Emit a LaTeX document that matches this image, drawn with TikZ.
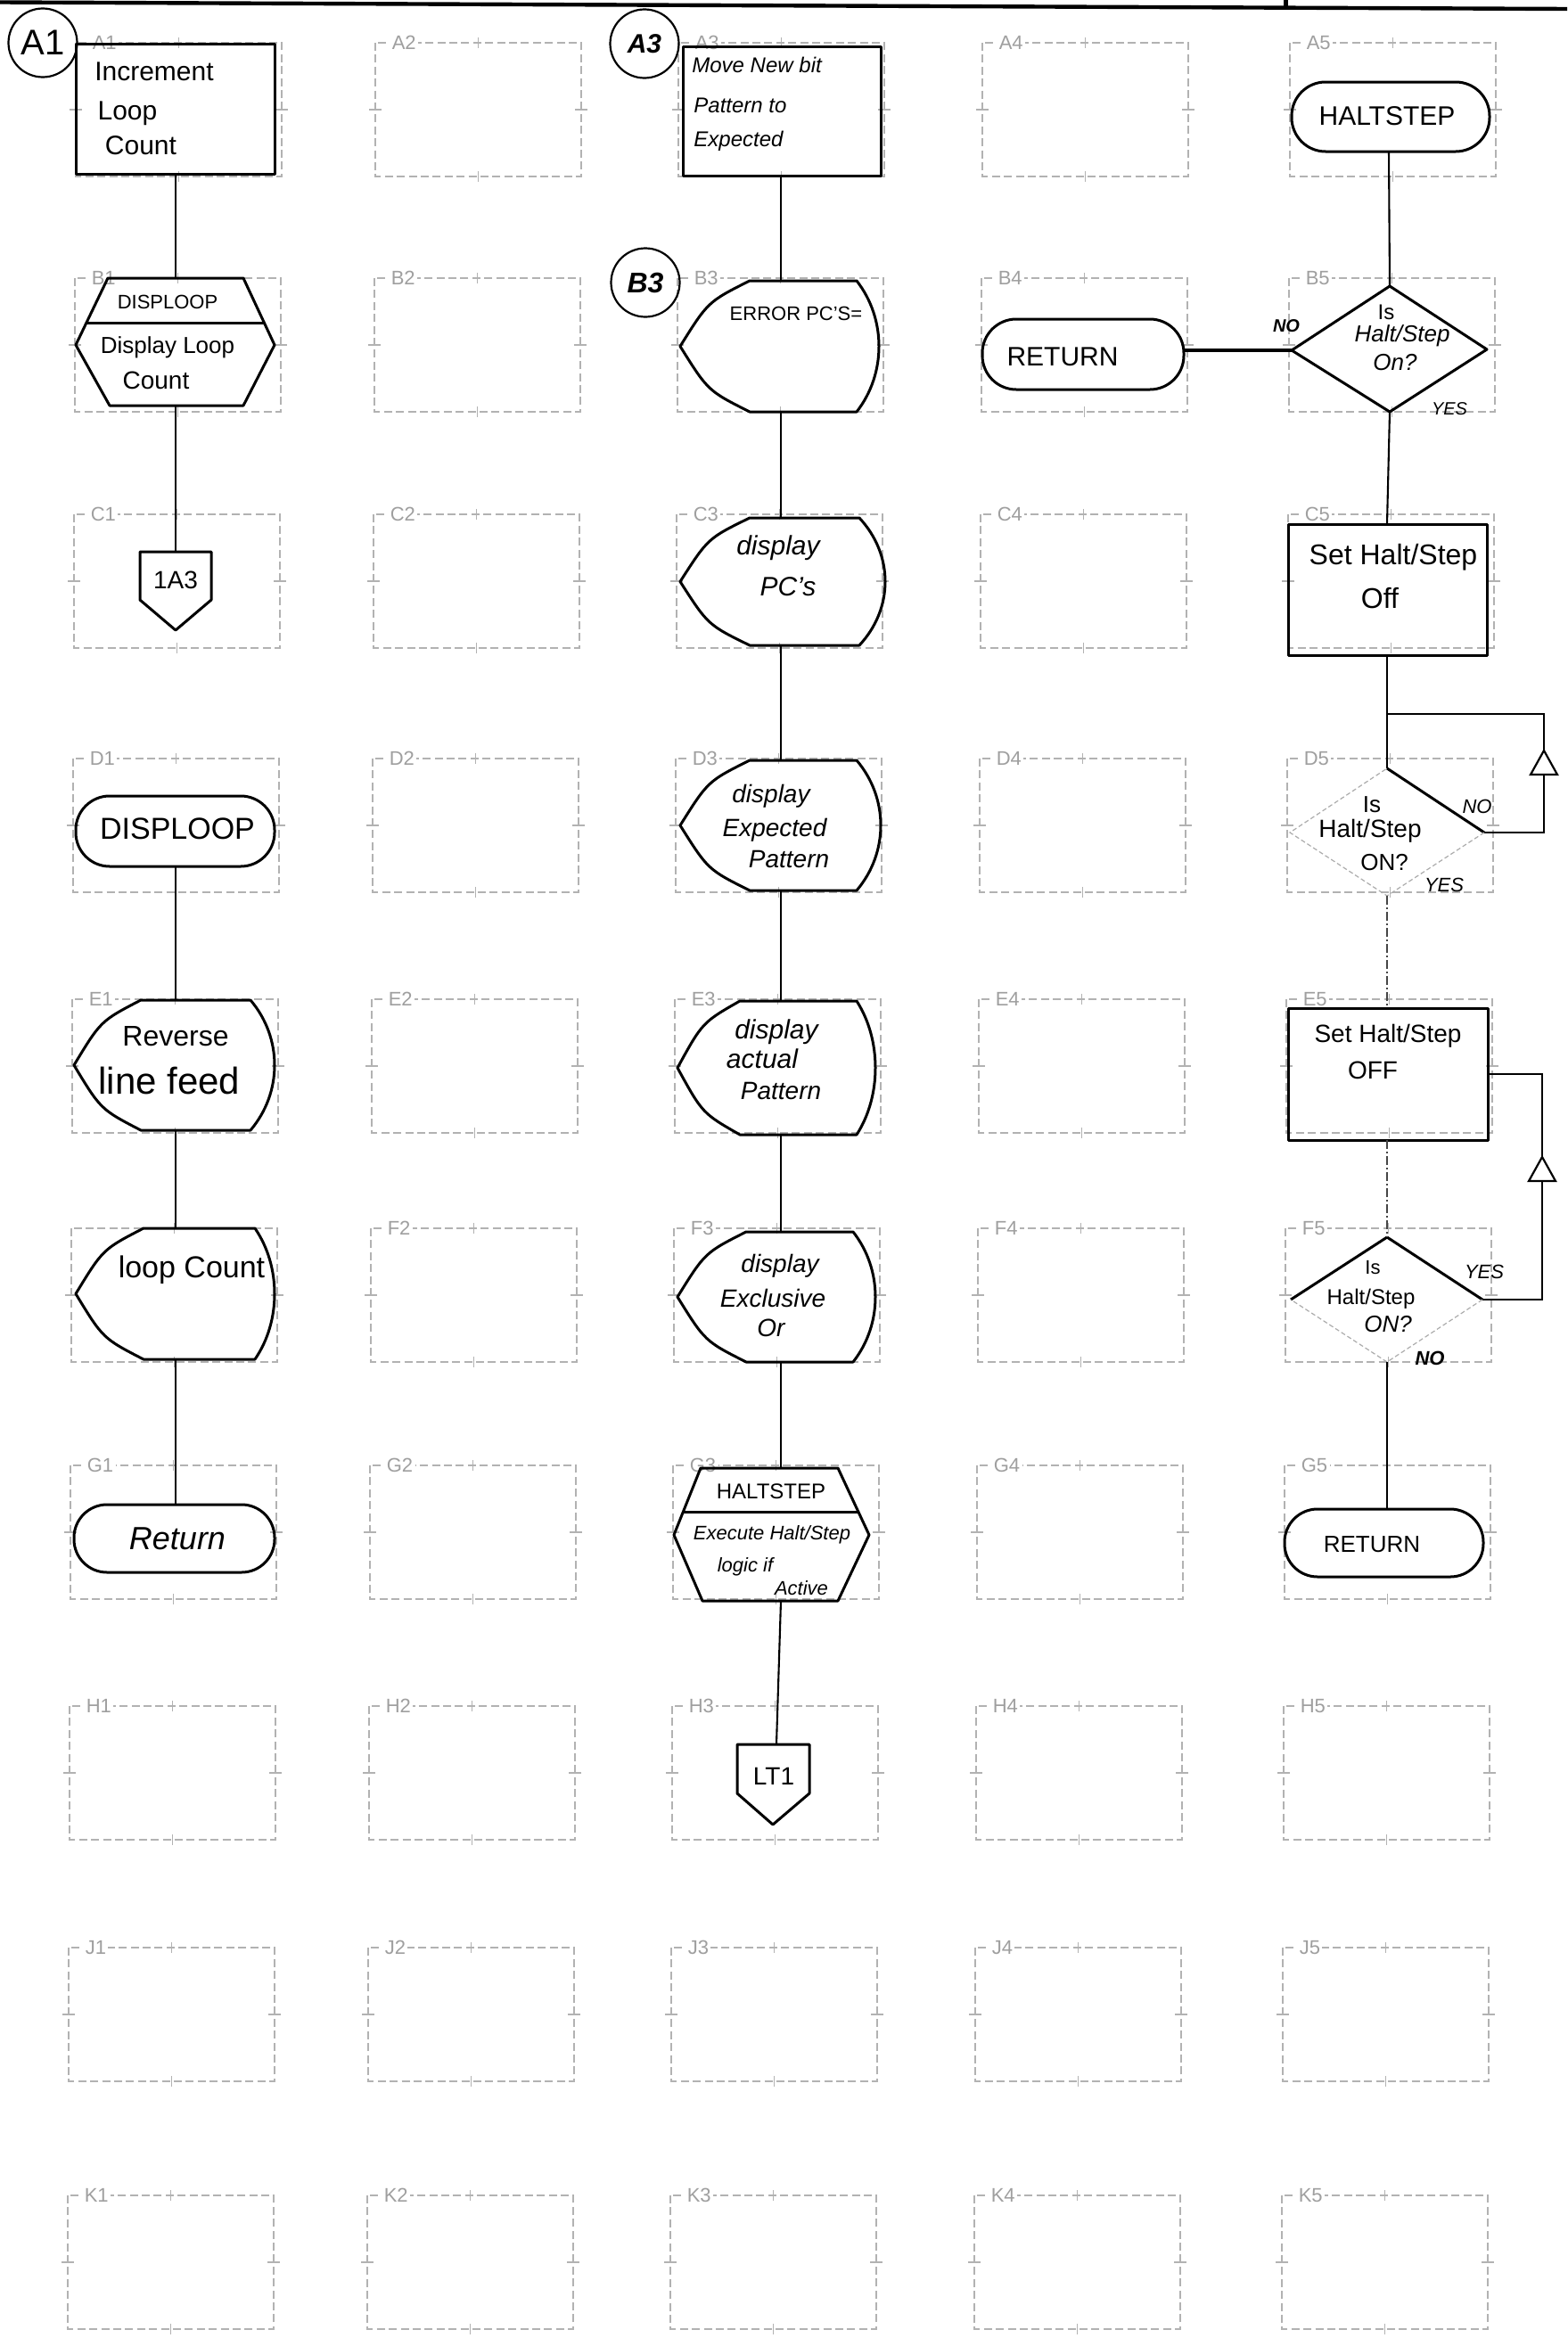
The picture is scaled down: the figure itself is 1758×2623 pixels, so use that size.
\documentclass[tikz,border=0pt]{standalone}
\usepackage{fontspec}
\setmainfont{Liberation Sans}
\usetikzlibrary{calc}
\newcommand\hf[1]{\fontsize{#1}{#1}\selectfont}
% display symbol: X1, X2, top, bottom, left point x, right max x
\newcommand\dispshape[6]{%
  \pgfmathsetmacro\dsM{(#3+#4)/2}%
  \pgfmathsetmacro\dsH{#4-#3}%
  \pgfmathsetmacro\dsC{#2+(#6-#2)/0.75}%
  \pgfmathsetmacro\dsLx{#1-0.6*(#1-#5)}%
  \pgfmathsetmacro\dsUa{#3+0.29*\dsH}%
  \pgfmathsetmacro\dsUb{#4-0.29*\dsH}%
  \pgfmathsetmacro\dsLa{#3+0.16*\dsH}%
  \pgfmathsetmacro\dsLb{#4-0.16*\dsH}%
  \draw[fig] (#1,#3) -- (#2,#3) .. controls (\dsC,\dsUa) and (\dsC,\dsUb) .. (#2,#4) -- (#1,#4) .. controls (\dsLx,\dsLb) .. (#5,\dsM) .. controls (\dsLx,\dsLa) .. (#1,#3) -- cycle;%
}
\newcommand\htx[5]{\node[txt, font=\hf{#4}] (#1) at (#2,#3) {#5};}
\begin{document}
\begin{tikzpicture}[x=0.5pt,y=-0.5pt,
  gridbox/.style={draw=gray!60, line width=0.6pt, dash pattern=on 4.5pt off 2.2pt},
  gridtick/.style={draw=gray!60, line width=0.6pt},
  gridlabel/.style={font=\hf{11}, text=gray!75, fill=white, inner sep=1.2pt},
  fig/.style={draw=black, line width=1.5pt, line join=round},
  conn/.style={draw=black, line width=1.05pt},
  faint/.style={draw=gray!65, line width=0.6pt, dash pattern=on 2.5pt off 1.5pt},
  dashdot/.style={draw=gray!55!black, line width=0.9pt, dash pattern=on 5pt off 1.5pt on 1pt off 1.5pt},
  txt/.style={inner sep=0pt},
  tri/.style={draw=black, line width=1.1pt, fill=white, line join=miter},
  circ/.style={draw=black, circle, line width=1.1pt, minimum size=38.5pt, inner sep=0pt}
]
\useasboundingbox (0,0) rectangle (1758,2623);
\fill[white] (0,0) rectangle (1758,2623);

% ---------------- grid of dashed cells ----------------
\foreach \ri/\ty/\rl in {0/48/A,1/312/B,2/577/C,3/851/D,4/1121/E,5/1378/F,6/1644/G,7/1914/H,8/2185/J,9/2463/K}{
  \foreach \cj/\lx in {1/85,2/421,3/761,4/1102,5/1447}{
    \pgfmathsetmacro\gL{\lx-1.0*\ri}
    \pgfmathsetmacro\gR{\gL+231}
    \pgfmathsetmacro\gM{\gL+115.5}
    \pgfmathsetmacro\gB{\ty+150}
    \pgfmathsetmacro\gV{\ty+75}
    \draw[gridbox] (\gL,\ty) rectangle (\gR,\gB);
    \draw[gridtick] (\gM,\ty-6) -- (\gM,\ty+6) (\gM,\gB-6) -- (\gM,\gB+6)
                    (\gL-7,\gV) -- (\gL+7,\gV) (\gR-7,\gV) -- (\gR+7,\gV);
    \ifnum\ri\cj=51\relax\else
      \node[gridlabel, anchor=west] (g\rl\cj) at (\gL+16,\ty) {\rl\cj};
    \fi
  }
}

% ---------------- top rule ----------------
\coordinate (topL) at (0,2.5);
\coordinate (topR) at (1758,10);
\coordinate (stubT) at (1442,0);
\coordinate (stubB) at (1442,11);
\draw[line width=2.2pt] (topL) -- (topR);
\draw[line width=2.5pt] (stubT) -- (stubB);

% ---------------- circles ----------------
\node[circ, font=\hf{20}] (cA1) at (48,48) {A1};
\node[circ, font=\bfseries\itshape\hf{15}] (cA3) at (723,49) {A3};
\node[circ, font=\bfseries\itshape\hf{16}] (cB3) at (724,317) {B3};

% ================= column 1 =================
\draw[fig] (85,49) rectangle (308,195);
\coordinate (A1b) at (197,195);
\htx{a1l1}{173}{80}{15}{Increment}
\htx{a1l2}{143}{127}{15}{Loop}
\htx{a1l3}{158}{163}{15}{Count}

\draw[fig] (121,312) -- (273,312) -- (308,387) -- (273,455) -- (123,455) -- (85,387) -- cycle;
\draw[fig] (97,362) -- (297,362);
\coordinate (B1t) at (197,312);
\coordinate (B1b) at (197,455);
\htx{b1h}{188}{339}{11}{DISPLOOP}
\htx{b1l1}{188}{390}{13}{Display Loop}
\htx{b1l2}{175}{427}{14}{Count}

\draw[fig] (157,619) -- (237,619) -- (237,673) -- (197,707) -- (157,673) -- cycle;
\coordinate (C1t) at (197,619);
\htx{c1}{197}{651}{14}{1A3}

\draw[fig, rounded corners=19pt] (85,893) rectangle (308,972);
\coordinate (D1b) at (197,972);
\htx{d1}{199}{930}{17}{DISPLOOP}

\dispshape{158}{281}{1122}{1268}{83}{308}
\coordinate (E1t) at (197,1122);
\coordinate (E1b) at (197,1268);
\htx{e1l1}{197}{1163}{16}{Reverse}
\htx{e1l2}{190}{1212}{21}{line feed}

\dispshape{161}{286}{1378}{1525}{85}{308}
\coordinate (F1t) at (197,1378);
\coordinate (F1b) at (197,1525);
\htx{f1}{215}{1425}{17}{loop Count}

\draw[fig, rounded corners=18.5pt] (83,1688) rectangle (308,1764);
\coordinate (G1t) at (197,1688);
\htx{g1}{199}{1726}{18}{\itshape Return}

\draw[conn] (A1b) -- (B1t);
\draw[conn] (B1b) -- (C1t);
\draw[conn] (D1b) -- (E1t);
\draw[conn] (E1b) -- (F1t);
\draw[conn] (F1b) -- (G1t);

% ================= column 3 =================
\draw[fig] (766,52) rectangle (988,197);
\coordinate (A3b) at (876,197);
\node[txt, font=\itshape\hf{12}, anchor=west] (a3l1) at (776,73) {Move New bit};
\node[txt, font=\itshape\hf{12}, anchor=west] (a3l2) at (778,118) {Pattern to};
\node[txt, font=\itshape\hf{12}, anchor=west] (a3l3) at (778,158) {Expected};

\dispshape{841}{961}{315}{462}{763}{986}
\coordinate (B3t) at (876,315);
\coordinate (B3b) at (876,462);
\htx{b3}{893}{352}{11}{ERROR PC'S=}

\dispshape{841}{964}{581}{724}{763}{993}
\coordinate (C3t) at (876,581);
\coordinate (C3b) at (876,724);
\htx{c3l1}{873}{615}{15}{\itshape display}
\htx{c3l2}{884}{658}{15}{\itshape PC's}

\dispshape{841}{961}{853}{999}{763}{988}
\coordinate (D3t) at (876,853);
\coordinate (D3b) at (876,999);
\htx{d3l1}{865}{893}{14}{\itshape display}
\htx{d3l2}{869}{931}{14}{\itshape Expected}
\htx{d3l3}{885}{964}{14}{\itshape Pattern}

\dispshape{830}{961}{1123}{1273}{760}{982}
\coordinate (E3t) at (876,1123);
\coordinate (E3b) at (876,1273);
\htx{e3l1}{871}{1158}{15}{\itshape display}
\htx{e3l2}{855}{1188}{15}{\itshape actual}
\htx{e3l3}{876}{1224}{14}{\itshape Pattern}

\dispshape{837}{957}{1382}{1528}{760}{982}
\coordinate (F3t) at (876,1382);
\coordinate (F3b) at (876,1528);
\htx{f3l1}{875}{1420}{14}{\itshape display}
\htx{f3l2}{867}{1456}{14}{\itshape Exclusive}
\htx{f3l3}{865}{1490}{14}{\itshape Or}

\draw[fig] (786,1647) -- (940,1647) -- (975,1722) -- (940,1796) -- (788,1796) -- (756,1722) -- cycle;
\draw[fig] (766,1696) -- (963,1696);
\coordinate (G3t) at (876,1647);
\coordinate (G3b) at (876,1796);
\htx{g3h}{865}{1673}{12}{HALTSTEP}
\htx{g3l1}{866}{1722}{11}{\itshape Execute Halt/Step}
\htx{g3l2}{836}{1758}{11}{\itshape logic if}
\htx{g3l3}{899}{1782}{11}{\itshape Active}

\draw[fig] (827,1957) -- (908,1957) -- (908,2012) -- (867,2047) -- (827,2012) -- cycle;
\coordinate (H3t) at (871,1957);
\htx{h3}{868}{1993}{14}{LT1}

\draw[conn] (A3b) -- (B3t);
\draw[conn] (B3b) -- (C3t);
\draw[conn] (C3b) -- (D3t);
\draw[conn] (D3b) -- (E3t);
\draw[conn] (E3b) -- (F3t);
\draw[conn] (F3b) -- (G3t);
\draw[conn] (G3b) -- (H3t);

% ================= column 4 =================
\draw[fig, rounded corners=19pt] (1102,358) rectangle (1328,437);
\coordinate (B4r) at (1328,393);
\htx{b4}{1192}{400}{15}{RETURN}

% ================= column 5 =================
\draw[fig, rounded corners=19pt] (1449,92) rectangle (1671,170);
\coordinate (A5b) at (1558,170);
\htx{a5}{1556}{130}{15}{HALTSTEP}

\coordinate (B5t) at (1559,321);
\coordinate (B5r) at (1668,392);
\coordinate (B5bm) at (1559,462);
\coordinate (B5l) at (1449,393);
\draw[fig] (B5t) -- (B5r) -- (B5bm) -- (B5l) -- cycle;
\htx{b5l1}{1555}{350}{12}{Is}
\htx{b5l2}{1573}{377}{13}{\itshape Halt/Step}
\htx{b5l3}{1565}{407}{13}{\itshape On?}
\htx{b5no}{1443}{366}{10}{\bfseries\itshape NO}
\htx{b5yes}{1626}{459}{10}{\itshape YES}

\draw[fig] (1445,588) rectangle (1668,735);
\coordinate (C5t) at (1556,588);
\coordinate (C5b) at (1556,735);
\htx{c5l1}{1563}{625}{16}{Set Halt/Step}
\htx{c5l2}{1548}{671}{16}{Off}

\coordinate (J1) at (1556,801);
\coordinate (D5t) at (1556,862);
\coordinate (D5r) at (1665,934);
\coordinate (D5bm) at (1556,1005);
\coordinate (D5l) at (1447,934);
\draw[fig] (D5t) -- (D5r);
\draw[faint] (D5r) -- (D5bm) -- (D5l) -- (D5t);
\htx{d5l1}{1539}{903}{13}{Is}
\htx{d5l2}{1537}{932}{14}{Halt/Step}
\htx{d5l3}{1553}{968}{13}{ON?}
\htx{d5no}{1657}{905}{11}{\itshape NO}
\htx{d5yes}{1620}{993}{11}{\itshape YES}

\draw[fig] (1445,1131) rectangle (1669,1279);
\coordinate (E5t) at (1556,1131);
\coordinate (E5b) at (1556,1279);
\coordinate (E5r) at (1669,1205);
\htx{e5l1}{1557}{1162}{14}{Set Halt/Step}
\htx{e5l2}{1540}{1201}{14}{OFF}

\coordinate (F5t) at (1556,1388);
\coordinate (F5r) at (1663,1458);
\coordinate (F5bm) at (1556,1528);
\coordinate (F5l) at (1448,1458);
\draw[fig] (F5l) -- (F5t) -- (F5r);
\draw[faint] (F5r) -- (F5bm) -- (F5l);
\htx{f5l1}{1540}{1422}{11}{Is}
\htx{f5l2}{1538}{1457}{12}{Halt/Step}
\htx{f5l3}{1557}{1486}{13}{\itshape ON?}
\htx{f5yes}{1665}{1427}{11}{\itshape YES}
\htx{f5no}{1604}{1524}{11}{\bfseries\itshape NO}

\draw[fig, rounded corners=18.5pt] (1441,1693) rectangle (1664,1769);
\coordinate (G5t) at (1556,1693);
\htx{g5}{1539}{1733}{13}{RETURN}

% connectors column 4/5
\draw[conn, line width=2.2pt] (B4r) -- (B5l);
\draw[conn] (A5b) -- (B5t);
\draw[conn] (B5bm) -- (C5t);
\draw[conn] (C5b) -- (J1) -- (D5t);
\coordinate (L1a) at (1732,934);
\coordinate (L1b) at (1732,801);
\draw[conn] (D5r) -- (L1a) -- (L1b) -- (J1);
\draw[tri] (1732,842) -- (1747,869) -- (1717,869) -- cycle;
\draw[dashdot] (D5bm) -- (E5t);
\draw[dashdot] (E5b) -- (F5t);
\coordinate (L2a) at (1730,1458);
\coordinate (L2b) at (1730,1205);
\draw[conn] (F5r) -- (L2a) -- (L2b) -- (E5r);
\draw[tri] (1730,1298) -- (1745,1325) -- (1715,1325) -- cycle;
\draw[conn] (F5bm) -- (G5t);
\end{tikzpicture}
\end{document}
